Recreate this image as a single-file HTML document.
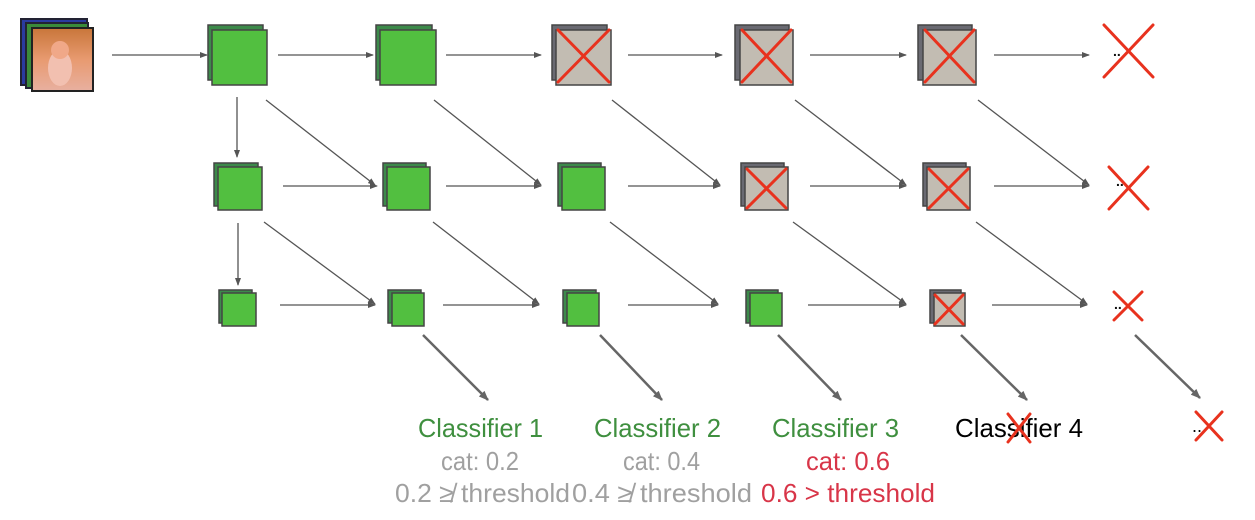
<!DOCTYPE html>
<html><head><style>body{margin:0;background:#fff}svg{display:block}</style></head><body>
<svg width="1255" height="520" xmlns="http://www.w3.org/2000/svg" font-family="Liberation Sans, sans-serif">
<defs>
<marker id="a" markerWidth="8" markerHeight="6" refX="7" refY="3" orient="auto" markerUnits="userSpaceOnUse"><path d="M0,0 L8,3 L0,6 z" fill="#555"/></marker>
<marker id="b" markerWidth="10" markerHeight="8" refX="9" refY="4" orient="auto" markerUnits="userSpaceOnUse"><path d="M0,0 L10,4 L0,8 z" fill="#666"/></marker>
<linearGradient id="cat" x1="0" y1="0" x2="0" y2="1"><stop offset="0" stop-color="#c8763a"/><stop offset="0.5" stop-color="#e89a70"/><stop offset="1" stop-color="#e8b0a0"/></linearGradient>
</defs>
<rect x="21" y="19" width="66" height="66" fill="#2a3aa0" stroke="#223" stroke-width="2"/>
<rect x="26" y="23" width="62" height="65" fill="#3a8a3a" stroke="#223" stroke-width="2"/>
<rect x="32" y="28" width="61" height="63" fill="url(#cat)" stroke="#222" stroke-width="2"/>
<ellipse cx="60" cy="68" rx="12" ry="18" fill="#f2c0b0"/>
<circle cx="60" cy="50" r="9" fill="#f0a888"/>

<g stroke="#555" stroke-width="1.3" fill="none" marker-end="url(#a)">
<line x1="112" y1="55" x2="207" y2="55"/>
<line x1="278" y1="55" x2="373" y2="55"/>
<line x1="446" y1="55" x2="541" y2="55"/>
<line x1="628" y1="55" x2="722" y2="55"/>
<line x1="810" y1="55" x2="906" y2="55"/>
<line x1="994" y1="55" x2="1089" y2="55"/>
<line x1="283" y1="186" x2="377" y2="186"/>
<line x1="446" y1="186" x2="541" y2="186"/>
<line x1="628" y1="186" x2="720" y2="186"/>
<line x1="810" y1="186" x2="906" y2="186"/>
<line x1="994" y1="186" x2="1089" y2="186"/>
<line x1="280" y1="305" x2="375" y2="305"/>
<line x1="443" y1="305" x2="539" y2="305"/>
<line x1="628" y1="305" x2="718" y2="305"/>
<line x1="808" y1="305" x2="906" y2="305"/>
<line x1="992" y1="305" x2="1087" y2="305"/>
<line x1="237" y1="97" x2="237" y2="157"/>
<line x1="238" y1="223" x2="238" y2="285"/>
<line x1="266" y1="100" x2="375" y2="185"/>
<line x1="434" y1="100" x2="541" y2="185"/>
<line x1="612" y1="100" x2="720" y2="185"/>
<line x1="795" y1="100" x2="906" y2="185"/>
<line x1="978" y1="100" x2="1089" y2="185"/>
<line x1="264" y1="222" x2="375" y2="304"/>
<line x1="433" y1="222" x2="539" y2="304"/>
<line x1="610" y1="222" x2="718" y2="304"/>
<line x1="793" y1="222" x2="906" y2="304"/>
<line x1="976" y1="222" x2="1087" y2="304"/>
</g>
<g stroke="#666" stroke-width="2.5" marker-end="url(#b)">
<line x1="423" y1="335" x2="488" y2="400"/>
<line x1="600" y1="335" x2="662" y2="400"/>
<line x1="778" y1="335" x2="841" y2="400"/>
<line x1="961" y1="335" x2="1027" y2="400"/>
<line x1="1135" y1="335" x2="1200" y2="398"/>
</g>

<g stroke="#444" stroke-width="1.5">
<g fill="#3c8a4a">
<rect x="208" y="25" width="55" height="55"/><rect x="376" y="25" width="56" height="55"/>
<rect x="214" y="163" width="44" height="43"/><rect x="383" y="163" width="43" height="43"/><rect x="558" y="163" width="43" height="43"/>
<rect x="219" y="290" width="33" height="33"/><rect x="388" y="290" width="33" height="33"/><rect x="563" y="290" width="33" height="33"/><rect x="746" y="290" width="32" height="33"/>
</g>
<g fill="#52bf40">
<rect x="212" y="30" width="55" height="55"/><rect x="380" y="30" width="56" height="55"/>
<rect x="218" y="167" width="44" height="43"/><rect x="387" y="167" width="43" height="43"/><rect x="562" y="167" width="43" height="43"/>
<rect x="222" y="293" width="34" height="33"/><rect x="392" y="293" width="32" height="33"/><rect x="567" y="293" width="32" height="33"/><rect x="750" y="293" width="32" height="33"/>
</g>
<g fill="#6a6a72">
<rect x="552" y="25" width="55" height="55"/><rect x="735" y="25" width="54" height="55"/><rect x="918" y="25" width="54" height="55"/>
<rect x="741" y="163" width="43" height="43"/><rect x="923" y="163" width="43" height="43"/>
<rect x="930" y="290" width="31" height="33"/>
</g>
<g fill="#c2bcb2">
<rect x="556" y="30" width="55" height="55"/><rect x="740" y="30" width="53" height="55"/><rect x="923" y="30" width="53" height="55"/>
<rect x="745" y="167" width="43" height="43"/><rect x="927" y="167" width="43" height="43"/>
<rect x="934" y="293" width="31" height="33"/>
</g>
</g>
<g stroke="#e8321e" stroke-width="3" stroke-linecap="round">
<path d="M558,30 L609,82 M609,30 L558,82"/>
<path d="M742,30 L791,82 M791,30 L742,82"/>
<path d="M925,30 L974,82 M974,30 L925,82"/>
<path d="M747,169 L786,208 M786,169 L747,208"/>
<path d="M929,169 L968,208 M968,169 L929,208"/>
<path d="M935,295 L963,324 M963,295 L935,324"/>
<path d="M1104,25 L1153,77 M1153,25 L1104,77"/>
<path d="M1109,167 L1148,209 M1148,167 L1109,209"/>
<path d="M1114,292 L1142,320 M1142,292 L1114,320"/>
</g>
<g font-size="14" font-weight="bold" fill="#111">
<text x="1113" y="56">..</text><text x="1116" y="186">..</text><text x="1114" y="309">..</text>
</g>

<g font-size="26" lengthAdjust="spacingAndGlyphs">
<text x="418" y="437" textLength="125" lengthAdjust="spacingAndGlyphs" fill="#3f8f3f">Classifier 1</text>
<text x="594" y="437" textLength="127" lengthAdjust="spacingAndGlyphs" fill="#3f8f3f">Classifier 2</text>
<text x="772" y="437" textLength="127" lengthAdjust="spacingAndGlyphs" fill="#3f8f3f">Classifier 3</text>
<text x="955" y="437" textLength="128" lengthAdjust="spacingAndGlyphs" fill="#000">Classifier 4</text>
<text x="1192" y="432" fill="#000" font-size="18">..</text>
<text x="441" y="470" textLength="78" lengthAdjust="spacingAndGlyphs" fill="#a0a0a0">cat: 0.2</text>
<text x="623" y="470" textLength="77" lengthAdjust="spacingAndGlyphs" fill="#a0a0a0">cat: 0.4</text>
<text x="806" y="470" textLength="84" lengthAdjust="spacingAndGlyphs" fill="#d83548">cat: 0.6</text>
<text x="395" y="502" textLength="175" lengthAdjust="spacingAndGlyphs" fill="#a0a0a0">0.2 ≱ threshold</text>
<text x="572" y="502" textLength="180" lengthAdjust="spacingAndGlyphs" fill="#a0a0a0">0.4 ≱ threshold</text>
<text x="761" y="502" textLength="174" lengthAdjust="spacingAndGlyphs" fill="#d83548">0.6 &gt; threshold</text>
</g>
<g stroke="#e8321e" stroke-width="3" stroke-linecap="round">
<path d="M1008,414 L1030,442 M1030,414 L1008,442"/>
<path d="M1196,412 L1222,440 M1222,412 L1196,440"/>
</g>
</svg>
</body></html>
